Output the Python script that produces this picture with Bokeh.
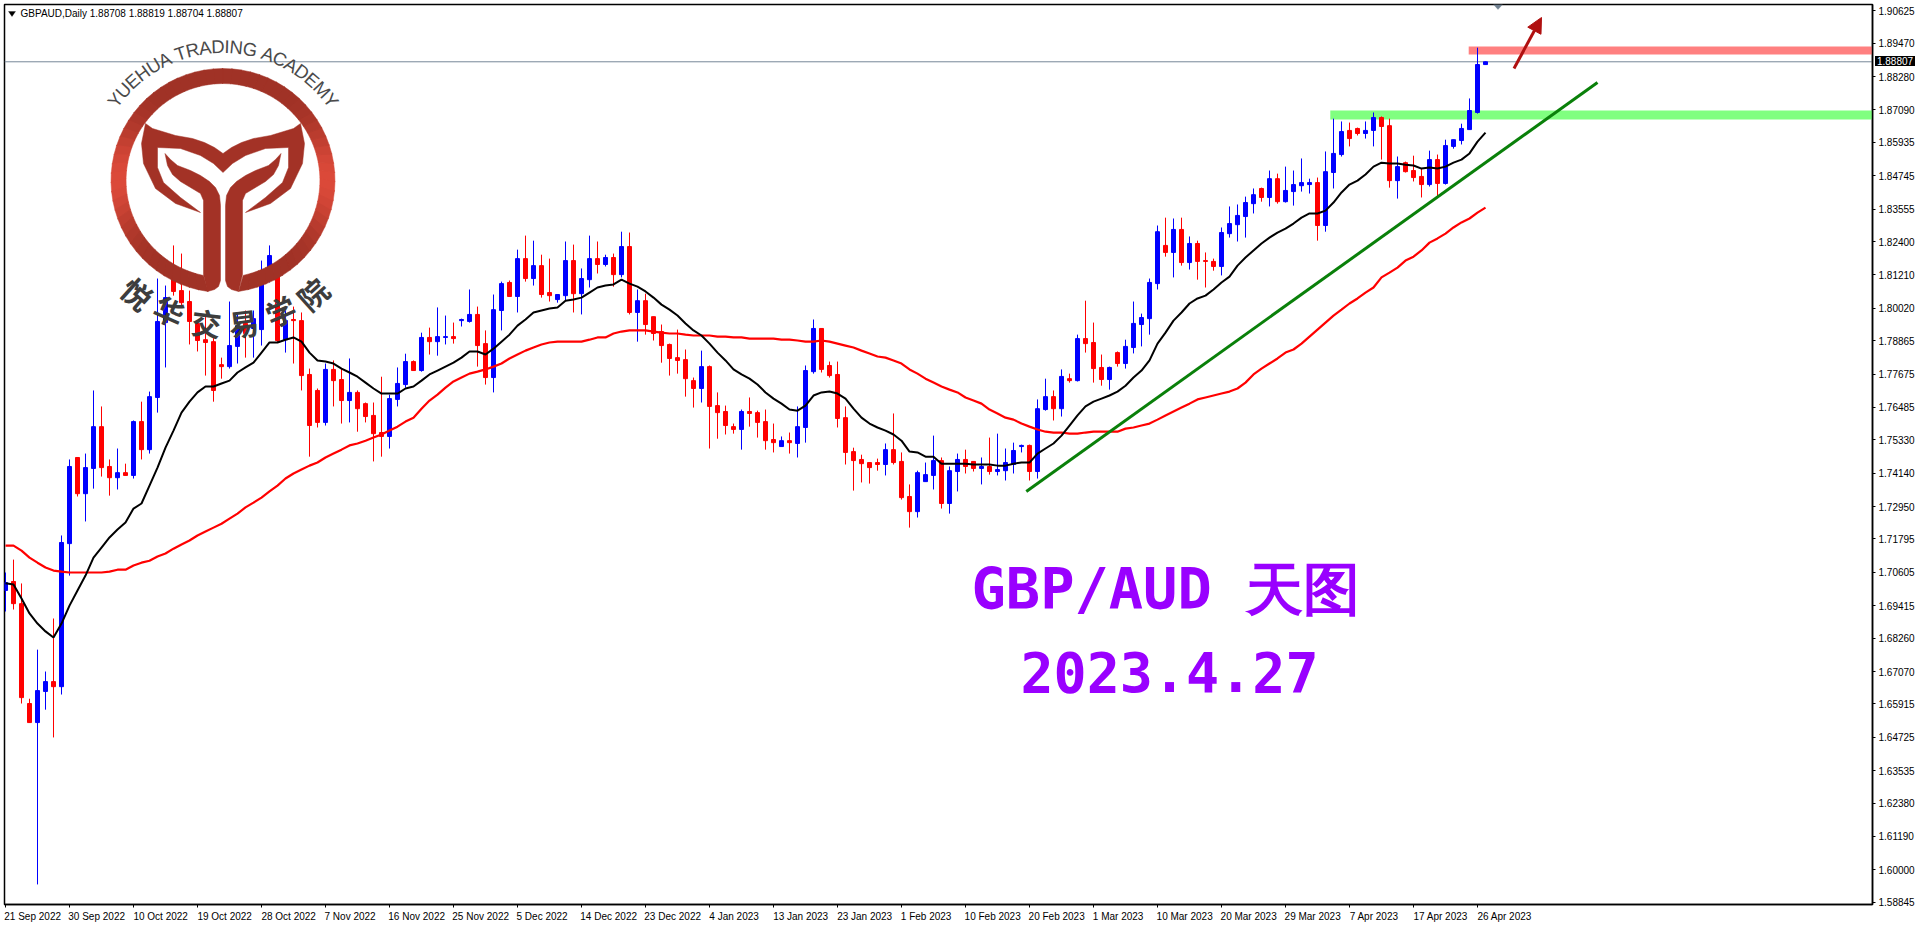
import math
from bokeh.plotting import figure
from bokeh.models import (Range1d, FixedTicker, NumeralTickFormatter, Label, PolyAnnotation,
                          Arrow, NormalHead, Div)
from bokeh.embed import file_html
from bokeh.resources import INLINE

# ---------- candles ----------
highs = [1.7060,1.7106,1.7021,1.6610,1.6785,1.6707,1.6896,1.7192,1.7463,1.7470,
 1.7484,1.7709,1.7652,1.7463,1.7502,1.7448,1.7602,1.7669,1.7705,1.8108,
 1.8083,1.8226,1.8197,1.8065,1.7958,1.7976,1.7898,1.7826,1.8026,1.7983,
 1.7994,1.7994,1.8172,1.8226,1.8154,1.7994,1.8008,1.7987,1.7787,1.7716,
 1.7805,1.7816,1.7787,1.7823,1.7709,1.7666,1.7666,1.7758,1.7694,1.7791,
 1.7840,1.7816,1.7915,1.7933,1.8005,1.7976,1.7951,1.7965,1.8069,1.8008,
 1.7923,1.8051,1.8097,1.8101,1.8211,1.8261,1.8243,1.8193,1.8179,1.8051,
 1.8240,1.8229,1.8144,1.8261,1.8240,1.8193,1.8197,1.8275,1.8272,1.8069,
 1.8054,1.7972,1.7944,1.7876,1.7926,1.7855,1.7755,1.7851,1.7798,1.7702,
 1.7655,1.7591,1.7641,1.7684,1.7637,1.7641,1.7591,1.7545,1.7559,1.7652,
 1.7798,1.7962,1.7930,1.7812,1.7812,1.7652,1.7505,1.7480,1.7452,1.7466,
 1.7520,1.7627,1.7488,1.7374,1.7423,1.7452,1.7548,1.7470,1.7438,1.7484,
 1.7498,1.7456,1.7470,1.7541,1.7555,1.7502,1.7523,1.7516,1.7516,1.7677,
 1.7751,1.7709,1.7784,1.7769,1.7908,1.8029,1.7951,1.7837,1.7794,1.7848,
 1.7890,1.8026,1.7983,1.8108,1.8297,1.8325,1.8322,1.8325,1.8258,1.8243,
 1.8201,1.8179,1.8290,1.8365,1.8372,1.8400,1.8429,1.8432,1.8493,1.8482,
 1.8507,1.8493,1.8536,1.8464,1.8468,1.8561,1.8678,1.8668,1.8664,1.8646,
 1.8668,1.8700,1.8686,1.8678,1.8543,1.8525,1.8546,1.8500,1.8564,1.8550,
 1.8603,1.8603,1.8660,1.8750,1.8931,1.88819]
body_tops = [1.7024,1.7028,1.6949,1.6593,1.6639,1.6671,1.6671,1.7167,1.7438,1.7470,
 1.7434,1.7580,1.7580,1.7438,1.7416,1.7416,1.7598,1.7598,1.7687,1.7955,
 1.8040,1.8154,1.8065,1.8026,1.7948,1.7890,1.7883,1.7801,1.7869,1.7940,
 1.7948,1.7965,1.8119,1.8190,1.8119,1.7958,1.7962,1.7958,1.7766,1.7709,
 1.7784,1.7784,1.7748,1.7702,1.7702,1.7662,1.7620,1.7559,1.7680,1.7734,
 1.7812,1.7812,1.7898,1.7898,1.7901,1.7901,1.7901,1.7962,1.7980,1.7980,
 1.7876,1.7997,1.8090,1.8094,1.8179,1.8179,1.8154,1.8154,1.8058,1.8051,
 1.8172,1.8172,1.8108,1.8179,1.8179,1.8183,1.8183,1.8222,1.8222,1.8029,
 1.8029,1.7972,1.7919,1.7873,1.7826,1.7819,1.7744,1.7794,1.7794,1.7655,
 1.7634,1.7580,1.7634,1.7634,1.7630,1.7598,1.7534,1.7530,1.7530,1.7580,
 1.7780,1.7930,1.7930,1.7798,1.7766,1.7612,1.7491,1.7463,1.7452,1.7452,
 1.7498,1.7498,1.7456,1.7331,1.7416,1.7409,1.7459,1.7459,1.7423,1.7463,
 1.7463,1.7456,1.7438,1.7438,1.7427,1.7452,1.7495,1.7513,1.7513,1.7644,
 1.7687,1.7687,1.7759,1.7751,1.7894,1.7894,1.7880,1.7791,1.7791,1.7844,
 1.7866,1.7948,1.7969,1.8094,1.8275,1.8226,1.8283,1.8283,1.8233,1.8233,
 1.8172,1.8169,1.8272,1.8304,1.8333,1.8379,1.8407,1.8429,1.8464,1.8464,
 1.8422,1.8443,1.8450,1.8450,1.8450,1.8489,1.8554,1.8632,1.8636,1.8643,
 1.8636,1.8682,1.8682,1.8653,1.8507,1.8521,1.8493,1.8472,1.8532,1.8532,
 1.8582,1.8603,1.8643,1.8707,1.8871,1.88807]
body_bottoms = [1.6996,1.6949,1.6614,1.6525,1.6525,1.6636,1.6653,1.6653,1.7163,1.7341,
 1.7341,1.7431,1.7434,1.7398,1.7398,1.7406,1.7406,1.7498,1.7498,1.7684,
 1.7951,1.8062,1.8022,1.7955,1.7887,1.7880,1.7709,1.7794,1.7794,1.7866,
 1.7912,1.7930,1.7926,1.8108,1.7887,1.7890,1.7958,1.7762,1.7584,1.7595,
 1.7595,1.7744,1.7673,1.7673,1.7644,1.7616,1.7555,1.7545,1.7545,1.7677,
 1.7730,1.7780,1.7780,1.7883,1.7883,1.7898,1.7894,1.7958,1.7955,1.7869,
 1.7755,1.7755,1.7994,1.8044,1.8044,1.8108,1.8108,1.8051,1.8047,1.8033,
 1.8047,1.8054,1.8054,1.8104,1.8158,1.8158,1.8122,1.8122,1.7987,1.7987,
 1.7944,1.7912,1.7869,1.7823,1.7816,1.7751,1.7716,1.7716,1.7652,1.7630,
 1.7584,1.7570,1.7570,1.7627,1.7595,1.7530,1.7523,1.7509,1.7523,1.7520,
 1.7577,1.7776,1.7784,1.7762,1.7609,1.7488,1.7459,1.7448,1.7434,1.7445,
 1.7445,1.7452,1.7327,1.7277,1.7277,1.7384,1.7406,1.7306,1.7306,1.7420,
 1.7438,1.7431,1.7431,1.7420,1.7420,1.7423,1.7445,1.7509,1.7420,1.7420,
 1.7641,1.7644,1.7644,1.7744,1.7744,1.7876,1.7787,1.7748,1.7748,1.7805,
 1.7805,1.7862,1.7944,1.7965,1.8090,1.8201,1.8201,1.8165,1.8165,1.8169,
 1.8169,1.8151,1.8151,1.8268,1.8300,1.8329,1.8375,1.8397,1.8397,1.8382,
 1.8382,1.8418,1.8439,1.8443,1.8297,1.8297,1.8486,1.8550,1.8607,1.8625,
 1.8625,1.8636,1.8650,1.8457,1.8457,1.8489,1.8468,1.8443,1.8443,1.8447,
 1.8447,1.8579,1.8600,1.8639,1.8700,1.88708]
lows = [1.6921,1.6928,1.6593,1.6525,1.5948,1.6571,1.6472,1.6625,1.7049,1.7331,
 1.7242,1.7359,1.7402,1.7334,1.7356,1.7406,1.7395,1.7463,1.7484,1.7630,
 1.7791,1.8047,1.8012,1.7873,1.7848,1.7762,1.7669,1.7751,1.7787,1.7805,
 1.7826,1.7826,1.7869,1.8094,1.7880,1.7844,1.7805,1.7709,1.7473,1.7577,
 1.7584,1.7652,1.7591,1.7595,1.7562,1.7595,1.7456,1.7473,1.7502,1.7652,
 1.7719,1.7780,1.7776,1.7837,1.7833,1.7873,1.7876,1.7937,1.7951,1.7794,
 1.7730,1.7702,1.7923,1.8044,1.7987,1.8097,1.8083,1.8040,1.8026,1.8022,
 1.8029,1.7987,1.7980,1.8076,1.8126,1.8151,1.8079,1.8112,1.7980,1.7883,
 1.7908,1.7887,1.7808,1.7762,1.7769,1.7687,1.7648,1.7666,1.7502,1.7537,
 1.7552,1.7555,1.7498,1.7580,1.7541,1.7498,1.7488,1.7509,1.7484,1.7470,
 1.7523,1.7769,1.7773,1.7755,1.7577,1.7445,1.7352,1.7381,1.7377,1.7423,
 1.7406,1.7445,1.7320,1.7220,1.7256,1.7384,1.7356,1.7288,1.7270,1.7349,
 1.7413,1.7420,1.7374,1.7409,1.7406,1.7388,1.7413,1.7488,1.7388,1.7395,
 1.7637,1.7602,1.7616,1.7737,1.7741,1.7844,1.7737,1.7726,1.7712,1.7794,
 1.7787,1.7841,1.7866,1.7908,1.8069,1.8186,1.8112,1.8154,1.8140,1.8104,
 1.8076,1.8136,1.8119,1.8254,1.8240,1.8254,1.8340,1.8382,1.8365,1.8375,
 1.8379,1.8368,1.8418,1.8411,1.8243,1.8275,1.8429,1.8543,1.8579,1.8618,
 1.8607,1.8579,1.8532,1.8432,1.8393,1.8486,1.8454,1.8397,1.8436,1.8400,
 1.8443,1.8571,1.8586,1.8639,1.8696,1.88704]
falling_bars = [1,2,3,6,9,12,13,15,17,21,22,23,24,25,26,27,30,34,36,37,38,39,41,42,44,45,46,47,
 51,53,56,59,60,63,65,67,68,71,74,76,78,80,81,82,83,84,85,86,88,89,90,91,93,94,95,96,98,
 102,103,104,105,106,107,108,109,111,112,113,117,120,121,123,128,131,133,135,136,137,139,
 145,147,149,150,151,157,159,164,168,169,172,173,175,176,177,179]

ma_black = [1.7022,1.7017,1.6967,1.6914,1.6878,1.6850,1.6828,1.6878,1.6942,1.6996,
 1.7049,1.7113,1.7149,1.7185,1.7213,1.7238,1.7288,1.7306,1.7370,1.7434,
 1.7505,1.7566,1.7630,1.7669,1.7702,1.7723,1.7723,1.7734,1.7744,1.7773,
 1.7791,1.7808,1.7844,1.7880,1.7880,1.7890,1.7898,1.7883,1.7844,1.7816,
 1.7812,1.7805,1.7787,1.7773,1.7758,1.7737,1.7716,1.7698,1.7698,1.7698,
 1.7716,1.7723,1.7744,1.7766,1.7780,1.7794,1.7808,1.7826,1.7848,1.7848,
 1.7837,1.7858,1.7883,1.7908,1.7940,1.7962,1.7987,1.7994,1.8001,1.8005,
 1.8029,1.8033,1.8040,1.8058,1.8076,1.8083,1.8087,1.8104,1.8090,1.8079,
 1.8062,1.8040,1.8015,1.7997,1.7976,1.7948,1.7923,1.7905,1.7876,1.7844,
 1.7816,1.7784,1.7766,1.7751,1.7730,1.7702,1.7680,1.7662,1.7641,1.7637,
 1.7655,1.7691,1.7702,1.7705,1.7698,1.7680,1.7644,1.7612,1.7591,1.7577,
 1.7566,1.7552,1.7530,1.7491,1.7488,1.7473,1.7473,1.7448,1.7448,1.7448,
 1.7448,1.7445,1.7445,1.7445,1.7441,1.7441,1.7448,1.7452,1.7452,1.7484,
 1.7502,1.7520,1.7548,1.7584,1.7620,1.7652,1.7669,1.7680,1.7691,1.7705,
 1.7726,1.7755,1.7780,1.7816,1.7876,1.7915,1.7958,1.7987,1.8019,1.8037,
 1.8047,1.8069,1.8094,1.8115,1.8154,1.8183,1.8208,1.8233,1.8254,1.8272,
 1.8286,1.8304,1.8325,1.8340,1.8340,1.8350,1.8379,1.8415,1.8443,1.8457,
 1.8479,1.8507,1.8521,1.8518,1.8518,1.8514,1.8511,1.8500,1.8504,1.8500,
 1.8507,1.8521,1.8532,1.8554,1.8596,1.8628]
ma_red = [1.7156,1.7156,1.7138,1.7113,1.7095,1.7078,1.7067,1.7063,1.7060,1.7060,
 1.7060,1.7060,1.7060,1.7063,1.7070,1.7070,1.7085,1.7095,1.7102,1.7117,
 1.7128,1.7145,1.7160,1.7174,1.7192,1.7206,1.7220,1.7234,1.7252,1.7270,
 1.7292,1.7309,1.7327,1.7349,1.7370,1.7395,1.7413,1.7427,1.7441,1.7452,
 1.7470,1.7484,1.7498,1.7513,1.7520,1.7530,1.7541,1.7552,1.7566,1.7580,
 1.7598,1.7612,1.7644,1.7673,1.7694,1.7719,1.7741,1.7755,1.7769,1.7776,
 1.7784,1.7794,1.7805,1.7823,1.7837,1.7851,1.7862,1.7873,1.7880,1.7883,
 1.7883,1.7883,1.7883,1.7890,1.7898,1.7898,1.7912,1.7919,1.7923,1.7923,
 1.7923,1.7919,1.7915,1.7912,1.7912,1.7908,1.7905,1.7905,1.7905,1.7901,
 1.7901,1.7898,1.7898,1.7894,1.7894,1.7894,1.7894,1.7890,1.7890,1.7887,
 1.7883,1.7883,1.7887,1.7883,1.7876,1.7869,1.7862,1.7851,1.7841,1.7830,
 1.7826,1.7816,1.7805,1.7784,1.7769,1.7751,1.7737,1.7723,1.7712,1.7702,
 1.7684,1.7673,1.7662,1.7641,1.7627,1.7612,1.7605,1.7591,1.7580,1.7570,
 1.7562,1.7559,1.7559,1.7555,1.7555,1.7559,1.7562,1.7562,1.7562,1.7562,
 1.7573,1.7577,1.7584,1.7591,1.7605,1.7620,1.7634,1.7648,1.7662,1.7677,
 1.7684,1.7691,1.7698,1.7705,1.7716,1.7737,1.7766,1.7787,1.7805,1.7823,
 1.7844,1.7855,1.7876,1.7901,1.7926,1.7951,1.7976,1.7997,1.8019,1.8037,
 1.8058,1.8076,1.8112,1.8129,1.8147,1.8172,1.8186,1.8208,1.8236,1.8251,
 1.8268,1.8290,1.8308,1.8322,1.8343,1.8361]

date_labels = ["21 Sep 2022","30 Sep 2022","10 Oct 2022","19 Oct 2022","28 Oct 2022","7 Nov 2022",
 "16 Nov 2022","25 Nov 2022","5 Dec 2022","14 Dec 2022","23 Dec 2022","4 Jan 2023","13 Jan 2023",
 "23 Jan 2023","1 Feb 2023","10 Feb 2023","20 Feb 2023","1 Mar 2023","10 Mar 2023","20 Mar 2023",
 "29 Mar 2023","7 Apr 2023","17 Apr 2023","26 Apr 2023"]
date_bars = [8 * k for k in range(len(date_labels))]
price_ticks = [1.90625,1.89470,1.88280,1.87090,1.85935,1.84745,1.83555,1.82400,1.81210,1.80020,
 1.78865,1.77675,1.76485,1.75330,1.74140,1.72950,1.71795,1.70605,1.69415,1.68260,1.67070,
 1.65915,1.64725,1.63535,1.62380,1.61190,1.60000,1.58845]
trend_x, trend_y = [127.6, 199.0], [1.7349, 1.8807]
green_zone = (165.6, 1.8675, 1.8707)
red_zone = (182.9, 1.8907, 1.8935)
last_price = 1.88807
header = "GBPAUD,Daily  1.88708 1.88819 1.88704 1.88807"

n = len(highs)
assert all(len(a) == n for a in (body_tops, body_bottoms, lows, ma_black, ma_red)), \
    [len(a) for a in (highs, body_tops, body_bottoms, lows, ma_black, ma_red)]

# picture pixel -> data, for the decorations only
X = lambda px: (px - 5) / 8
Y = lambda py: 1.90992 - 0.0003565 * py

x_rng = Range1d(X(4), X(1872))
y_rng = Range1d(Y(904), Y(4))
p = figure(width=1920, height=927, x_range=x_rng, y_range=y_rng, output_backend="svg",
           toolbar_location=None, y_axis_location="right", x_axis_location="below",
           min_border_left=4, min_border_right=48, min_border_top=4, min_border_bottom=23,
           background_fill_color="white", border_fill_color="white",
           outline_line_color="black", outline_line_width=1.5)
p.grid.visible = False

AX = "Liberation Sans"
ax = p.yaxis[0]
ax.ticker = FixedTicker(ticks=price_ticks, minor_ticks=[])
ax.formatter = NumeralTickFormatter(format="0.00000")
xa = p.xaxis[0]
centers = [b - 0.125 + 0.32 * len(l) for b, l in zip(date_bars, date_labels)]
xa.ticker = FixedTicker(ticks=centers, minor_ticks=date_bars)
xa.major_label_overrides = {c: l for c, l in zip(centers, date_labels)}
xa.major_tick_out = 0
xa.major_tick_in = 0
xa.minor_tick_out = 3
xa.minor_tick_in = 0
xa.minor_tick_line_color = "black"
ax.major_tick_out = 3
ax.major_tick_in = 0
ax.minor_tick_line_color = None
for a in (ax, xa):
    a.axis_line_color = "black"
    a.axis_line_width = 1.5
    a.major_tick_line_color = "black"
    a.major_label_text_font = AX
    a.major_label_text_font_size = "10px"
    a.major_label_text_color = "black"
    a.major_label_standoff = 3

# zones, current-price line
xright = X(1872)
p.quad(left=[green_zone[0]], right=[xright], bottom=[green_zone[1]], top=[green_zone[2]],
       fill_color="#80ff80", line_color=None)
p.quad(left=[red_zone[0]], right=[xright], bottom=[red_zone[1]], top=[red_zone[2]],
       fill_color="#ff8080", line_color=None)
p.line([X(4), xright], [last_price, last_price], line_color="#778899", line_width=1)

# candles
idx = list(range(n))
falling = set(falling_bars)
colors = ["#ff0000" if i in falling else "#0000ff" for i in idx]
p.segment(idx, lows, idx, highs, line_color=colors, line_width=1)
p.vbar(x=idx, width=0.5, top=body_tops, bottom=body_bottoms, fill_color=colors, line_color=colors, line_width=1)

# averages and trend line
p.line(idx, ma_red, line_color="#ff0000", line_width=2.2)
p.line(idx, ma_black, line_color="#000000", line_width=2)
p.line(trend_x, trend_y, line_color="#0a800a", line_width=3)

# arrow
p.add_layout(Arrow(x_start=X(1513.5), y_start=Y(68), x_end=X(1541), y_end=Y(17),
                   line_color="#b01010", line_width=3,
                   end=NormalHead(size=15, fill_color="#b01010", line_color="#b01010")))

# ---------- logo ----------
cx, cy = 222.5, 180.0
def lerp(t):
    a, b = (0xa0, 0x32, 0x26), (0xdc, 0x4a, 0x3a)
    return "#%02x%02x%02x" % tuple(int(a[k] + (b[k] - a[k]) * t) for k in range(3))
rx, ry, rc = [], [], []
N = 72
for k in range(N):
    a0 = math.radians(-82 + 344 * k / N)
    a1 = math.radians(-82 + 344 * (k + 1) / N + 0.4)
    b0 = math.radians(-78 + 336 * k / N)
    b1 = math.radians(-78 + 336 * (k + 1) / N + 0.4)
    pts = [(cx + 112 * math.cos(a0), cy - 112 * math.sin(a0)),
           (cx + 112 * math.cos(a1), cy - 112 * math.sin(a1)),
           (cx + 97 * math.cos(b1), cy - 97 * math.sin(b1)),
           (cx + 97 * math.cos(b0), cy - 97 * math.sin(b0))]
    rx.append([X(q[0]) for q in pts]); ry.append([Y(q[1]) for q in pts])
    rc.append(lerp(abs(math.cos((a0 + a1) / 2)) ** 8))
p.patches(rx, ry, fill_color=rc, line_color=rc, line_width=0.5)

DARK = "#a33226"
stem = [(164.5,153),(170,159),(177,165),(190,170),(200,175),(209,181),(215,187),(219,195),(220,205),
        (220,280),(218,286),(214,289),(207,291),(203,274),(203,200),(200,193),(190,187),(180,181),
        (172,174),(167,165)]
wing = [(145,123),(152,128),(175,135),(192,138),(204,142),(214,147),(222.5,153),(231,147),(241,142),
        (253,138),(270,135),(293,128),(300,123),(304,143),(302,163),(290,188),(270,203),(245,212),
        (265,197),(282,182),(288,167),(288,147),(265,148),(245,155),(232,163),(222.5,172),(213,163),
        (200,155),(180,148),(157,147),(157,167),(163,182),(180,197),(200,212),(175,203),(155,188),
        (143,163),(141,143)]
shapes = [stem, [(445 - q[0], q[1]) for q in stem], wing]
p.patches([[X(q[0]) for q in s] for s in shapes], [[Y(q[1]) for q in s] for s in shapes],
          fill_color=DARK, line_color=DARK, line_width=0.5)

arc_text = "YUEHUA TRADING ACADEMY"
w = {"Y":.667,"U":.722,"E":.667,"H":.722,"A":.667," ":.278,"T":.611,"R":.722,"D":.722,"I":.278,
     "N":.722,"G":.778,"C":.722,"M":.833}
fs, rad = 18.5, 135.0
total = sum(w[c] for c in arc_text) * fs
pos = 0.0
for ch in arc_text:
    adv = w[ch] * fs
    th = math.pi / 2 + (total / 2 - (pos + adv / 2)) / rad
    pos += adv
    if ch == " ":
        continue
    p.add_layout(Label(x=X(cx + rad * math.cos(th)), y=Y(181 - rad * math.sin(th)), text=ch,
                       angle=th - math.pi / 2, text_font="Liberation Sans", text_font_size="18.5px",
                       text_color="#4a4a4a", text_align="center", text_baseline="middle"))
for ch, (hx, hy, deg) in zip("悦华交易学院",
        [(137,293,-42),(169,310,-24),(206,322,-7),(243,322,7),(280,310,24),(312,293,42)]):
    p.add_layout(Label(x=X(hx), y=Y(hy), text=ch, angle=deg, angle_units="deg",
                       text_font="Noto Sans CJK SC", text_font_style="bold", text_font_size="30px",
                       text_color="#3d3d3d", text_align="center", text_baseline="middle"))

# ---------- big captions ----------
p.add_layout(Label(x=X(971), y=Y(588), text="GBP/AUD 天图", text_font="DejaVu Sans Mono",
                   text_font_style="bold", text_font_size="57px", text_color="#9900ff",
                   text_align="left", text_baseline="middle"))
p.add_layout(Label(x=X(1169), y=Y(671), text="2023.4.27", text_font="DejaVu Sans Mono",
                   text_font_style="bold", text_font_size="55px", text_color="#9900ff",
                   text_align="center", text_baseline="middle"))

# ---------- chart furniture ----------
p.add_layout(Label(x=X(20), y=Y(13), text=header, text_font=AX, text_font_size="10px",
                   text_color="black", text_baseline="middle"))
p.add_layout(PolyAnnotation(xs=[X(8), X(15), X(11.5)], ys=[Y(11), Y(11), Y(16)],
                            fill_color="black", fill_alpha=1, line_color="black"))
p.add_layout(PolyAnnotation(xs=[X(1493), X(1502), X(1497.5)], ys=[Y(4), Y(4), Y(9)],
                            fill_color="#708090", fill_alpha=1, line_color="#708090"))
# current-price tag on the axis strip
tag = Div(text="1.88807", styles={"position": "absolute", "left": "1875px", "top": "56px",
                                  "width": "40px", "height": "10px", "line-height": "10px",
                                  "background": "black", "color": "white", "z-index": "10",
                                  "font": "10px 'Liberation Sans'", "text-align": "center"})
p.elements = [tag]
for xs, ys, col in [([0, 2, 2, 0], [0, 0, 927, 927], "#a0a0a0"),
                    ([0, 1920, 1920, 0], [0, 0, 2, 2], "#a0a0a0"),
                    ([0, 1920, 1920, 0], [925, 925, 926, 926], "#e0e0e0"),
                    ([1918, 1919, 1919, 1918], [0, 0, 926, 926], "#e0e0e0")]:
    p.add_layout(PolyAnnotation(xs=[X(v) for v in xs], ys=[Y(v) for v in ys],
                                fill_color=col, fill_alpha=1, line_color=None))

open("out.html", "w").write(file_html(p, INLINE))
